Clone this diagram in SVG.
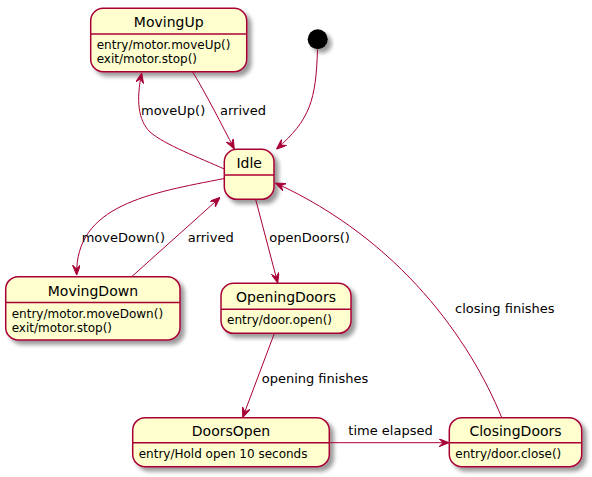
<svg xmlns="http://www.w3.org/2000/svg" width="592" height="477" viewBox="0 0 592 477">
<style>
.st{fill:#FEFECE;stroke:#A80036;stroke-width:1.5;filter:url(#sh)}
.dv{stroke:#A80036;stroke-width:1.5}
.t{font-family:"DejaVu Sans",sans-serif;font-size:14px;fill:#000;text-anchor:middle}
.b{font-family:"DejaVu Sans",sans-serif;font-size:12px;fill:#000}
.l{font-family:"DejaVu Sans",sans-serif;font-size:13px;fill:#000}
.e{fill:none;stroke:#A80036;stroke-width:1;marker-end:url(#ah)}
</style>
<defs>
<filter id="sh" x="-20%" y="-20%" width="150%" height="160%">
<feGaussianBlur in="SourceAlpha" stdDeviation="2"/>
<feOffset dx="4" dy="4" result="o"/>
<feComponentTransfer><feFuncA type="linear" slope="0.4"/></feComponentTransfer>
<feMerge><feMergeNode/><feMergeNode in="SourceGraphic"/></feMerge>
</filter>
<marker id="ah" viewBox="0 0 10 8" refX="10" refY="4" markerWidth="10" markerHeight="8" orient="auto" markerUnits="userSpaceOnUse">
<path d="M0,0 L10,4 L0,8 L4,4 Z" fill="#A80036" stroke="#A80036" stroke-width="1"/>
</marker>
</defs>
<rect width="592" height="477" fill="#fff"/>
<g id="initial"><circle cx="317.7" cy="39.3" r="10" fill="#000" filter="url(#sh)"/></g>
<g id="MovingUp">
<rect class="st" x="90.7" y="8.3" width="156" height="63.4" rx="12.5"/>
<line class="dv" x1="90.7" y1="34" x2="246.7" y2="34"/>
<text class="t" x="168.7" y="27">MovingUp</text>
<text class="b" x="96.7" y="49">entry/motor.moveUp()</text>
<text class="b" x="96.7" y="63">exit/motor.stop()</text>
</g>
<g id="Idle">
<rect class="st" x="224.3" y="149.3" width="49.7" height="50" rx="12.5"/>
<line class="dv" x1="224.3" y1="175" x2="274" y2="175"/>
<text class="t" x="249.2" y="168">Idle</text>
</g>
<g id="MovingDown">
<rect class="st" x="5.7" y="276.7" width="174.3" height="63.3" rx="12.5"/>
<line class="dv" x1="5.7" y1="302.5" x2="180" y2="302.5"/>
<text class="t" x="92.9" y="295.5">MovingDown</text>
<text class="b" x="11.7" y="317.5">entry/motor.moveDown()</text>
<text class="b" x="11.7" y="331.5">exit/motor.stop()</text>
</g>
<g id="OpeningDoors">
<rect class="st" x="221" y="283.3" width="130" height="50" rx="12.5"/>
<line class="dv" x1="221" y1="309.3" x2="351" y2="309.3"/>
<text class="t" x="286" y="302">OpeningDoors</text>
<text class="b" x="227" y="324">entry/door.open()</text>
</g>
<g id="DoorsOpen">
<rect class="st" x="132.7" y="417.7" width="196.6" height="49" rx="12.5"/>
<line class="dv" x1="132.7" y1="442.7" x2="329.3" y2="442.7"/>
<text class="t" x="231" y="436">DoorsOpen</text>
<text class="b" x="138.7" y="458">entry/Hold open 10 seconds</text>
</g>
<g id="ClosingDoors">
<rect class="st" x="449.3" y="417.7" width="132.4" height="49" rx="12.5"/>
<line class="dv" x1="449.3" y1="442.7" x2="581.7" y2="442.7"/>
<text class="t" x="515.5" y="436">ClosingDoors</text>
<text class="b" x="455.3" y="458">entry/door.close()</text>
</g>
<g id="connectors">
<path class="e" d="M224.3,169 C200,158 165,145 150,132 C138,120 136,100 141.7,73"/>
<path class="e" d="M192.7,72 C205,92 222,125 234.3,149"/>
<path class="e" d="M317.5,49.5 C316,100 310,120 276.5,149"/>
<path class="e" d="M224.3,178.5 C150,193 75,205 76.7,275"/>
<path class="e" d="M131.7,276.7 L220,197.5"/>
<path class="e" d="M255.7,199.5 L277.7,283"/>
<path class="e" d="M501.7,417.5 C470,340 400,240 275.5,183"/>
<path class="e" d="M274.3,333.5 L242.7,417.5"/>
<path class="e" d="M329.3,442.7 L449,442.7"/>
<text class="l" x="141" y="114.5">moveUp()</text>
<text class="l" x="220" y="114.5">arrived</text>
<text class="l" x="81.7" y="241.5">moveDown()</text>
<text class="l" x="187.7" y="241.5">arrived</text>
<text class="l" x="269.3" y="241.5">openDoors()</text>
<text class="l" x="455" y="312.5">closing finishes</text>
<text class="l" x="261.7" y="382.5">opening finishes</text>
<text class="l" x="348.3" y="434.5">time elapsed</text>
</g>
</svg>
